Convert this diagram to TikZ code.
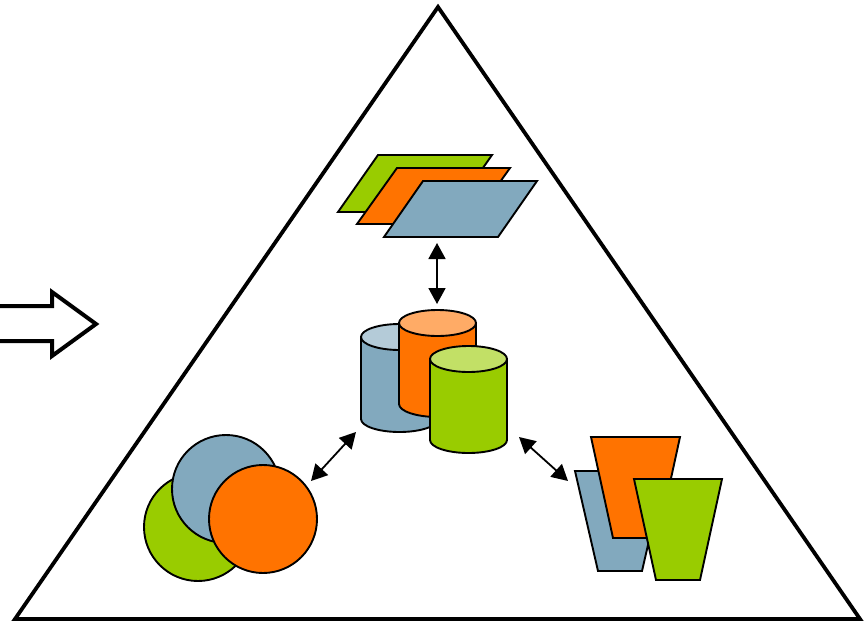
\documentclass[tikz,border=0pt]{standalone}
\usetikzlibrary{arrows.meta}
\definecolor{cblue}{HTML}{82A9BE}
\definecolor{corange}{HTML}{FF7300}
\definecolor{cgreen}{HTML}{99CC00}
\definecolor{lblue}{HTML}{B4CBD8}
\definecolor{lorange}{HTML}{FFAB66}
\definecolor{lgreen}{HTML}{C2E066}
\tikzset{
  shapeline/.style={draw=black,line width=1.9pt,line join=miter},
  link/.style={line width=1.8pt,{Triangle[length=16pt,width=17pt]}-{Triangle[length=16pt,width=17pt]},shorten <=0pt,shorten >=0pt},
  frame/.style={draw=black,line width=3.8pt,line join=miter},
  bigarrow/.style={draw=black,fill=white,line width=4pt,line join=miter},
}
% x1, x2, top of the lid, bottom of the body, body colour, lid colour
\newcommand{\drumshape}[6]{%
  \pgfmathsetmacro{\mx}{(#1+#2)/2}%
  \pgfmathsetmacro{\rx}{(#2-#1)/2}%
  \path[shapeline,fill=#5] (#1,#3+13) -- (#1,#4-13) arc[start angle=180,end angle=0,x radius=\rx,y radius=13] -- (#2,#3+13) -- cycle;
  \path[shapeline,fill=#6] (\mx,#3+13) ellipse[x radius=\rx,y radius=13];
}
\begin{document}
\begin{tikzpicture}[x=1pt,y=-1pt]
\useasboundingbox (0,0) rectangle (866,623);
% frame
\path[frame] (438,7) -- (860,619) -- (15,619) -- cycle;
% input arrow
\path[bigarrow] (0,306) -- (52,306) -- (52,292) -- (96,324) -- (52,356) -- (52,341) -- (0,341);
% parallelograms
\path[shapeline,fill=cgreen] (378,155) -- (492,155) -- (452,212) -- (338,212) -- cycle;
\path[shapeline,fill=corange] (397,168) -- (510,168) -- (470,224) -- (357,224) -- cycle;
\path[shapeline,fill=cblue] (423,181) -- (537,181) -- (498,237) -- (384,237) -- cycle;
% cylinders
\drumshape{361}{438}{324}{432}{cblue}{lblue}
\drumshape{399}{476}{310}{417}{corange}{lorange}
\drumshape{430}{507}{346}{453}{cgreen}{lgreen}
% circles
\path[shapeline,fill=cgreen] (198,527) circle[radius=54];
\path[shapeline,fill=cblue] (226,489) circle[radius=54];
\path[shapeline,fill=corange] (263,519) circle[radius=54];
% trapezoids
\path[shapeline,fill=cblue] (575,471) -- (665,471) -- (642,571) -- (598,571) -- cycle;
\path[shapeline,fill=corange] (591,437) -- (680,437) -- (658,538) -- (613,538) -- cycle;
\path[shapeline,fill=cgreen] (634,479) -- (722,479) -- (700,580) -- (656,580) -- cycle;
% connectors
\coordinate (planesEnd) at (437,243);
\coordinate (drumTop) at (437,304);
\coordinate (drumLeft) at (356,432);
\coordinate (circlesEnd) at (311,481);
\coordinate (drumRight) at (519,437);
\coordinate (trapEnd) at (568,481);
\draw[link] (planesEnd) -- (drumTop);
\draw[link] (drumLeft) -- (circlesEnd);
\draw[link] (drumRight) -- (trapEnd);
\end{tikzpicture}
\end{document}
